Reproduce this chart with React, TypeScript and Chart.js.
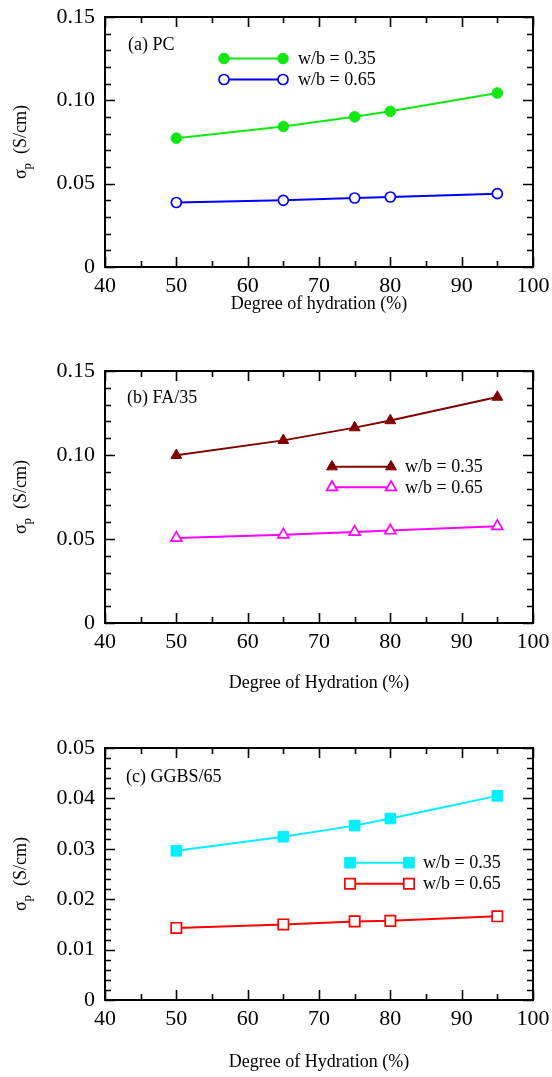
import React, { useEffect, useRef } from 'react';
import { Chart, registerables } from 'chart.js';
import { drawPoint } from 'chart.js/helpers';

Chart.register(...registerables);

// ---------------- data ----------------
const hydration = [50, 65, 75, 80, 95];
const seriesLabels = ['w/b = 0.35', 'w/b = 0.65'];

const pcWb35 = [0.0773, 0.0843, 0.0901, 0.0934, 0.1044];
const pcWb65 = [0.0387, 0.04, 0.0414, 0.042, 0.044];

const faWb35 = [0.0998, 0.1087, 0.1163, 0.1205, 0.1345];
const faWb65 = [0.0506, 0.0526, 0.0542, 0.055, 0.0576];

const ggbsWb35 = [0.0296, 0.0324, 0.0346, 0.036, 0.0405];
const ggbsWb65 = [0.0143, 0.015, 0.0156, 0.0157, 0.0166];

const xRange = [40, 100];
const xStep = 10;
const yRangeAB = [0, 0.15];
const yStepAB = 0.05;
const yRangeC = [0, 0.05];
const yStepC = 0.01;

const panelTitles = ['(a) PC', '(b) FA/35', '(c) GGBS/65'];
const xTitles = ['Degree of hydration (%)', 'Degree of Hydration (%)', 'Degree of Hydration (%)'];

const SERIF = '"Liberation Serif", "Times New Roman", serif';

// ---------------- plugin ----------------
const decoPlugin = {
  id: 'panelDeco',
  afterDraw(chart: any, _args: any, opts: any) {
    const { ctx, chartArea: a } = chart;
    const xs = chart.scales.x;
    const ys = chart.scales.y;
    ctx.save();

    // inward ticks on all four sides
    ctx.strokeStyle = '#000';
    ctx.lineWidth = 1.6;
    ctx.beginPath();
    const MAJ = 10;
    const MIN = 6;
    const nx = Math.round((xs.max - xs.min) / opts.minorX);
    for (let i = 0; i <= nx; i++) {
      const v = xs.min + i * opts.minorX;
      const px = Math.round(xs.getPixelForValue(v)) + 0.5;
      const len = i % opts.perMajorX === 0 ? MAJ : MIN;
      ctx.moveTo(px, a.bottom);
      ctx.lineTo(px, a.bottom - len);
      ctx.moveTo(px, a.top);
      ctx.lineTo(px, a.top + len);
    }
    const ny = Math.round((ys.max - ys.min) / opts.minorY);
    for (let i = 0; i <= ny; i++) {
      const v = ys.min + i * opts.minorY;
      const py = Math.round(ys.getPixelForValue(v)) + 0.5;
      const len = i % opts.perMajorY === 0 ? MAJ : MIN;
      ctx.moveTo(a.left, py);
      ctx.lineTo(a.left + len, py);
      ctx.moveTo(a.right, py);
      ctx.lineTo(a.right - len, py);
    }
    ctx.stroke();

    // frame
    ctx.lineWidth = 2;
    ctx.strokeRect(a.left, a.top, a.right - a.left, a.bottom - a.top);

    // panel label
    ctx.fillStyle = '#000';
    ctx.font = '18px ' + SERIF;
    ctx.textAlign = 'left';
    ctx.textBaseline = 'middle';
    ctx.fillText(opts.panelLabel, opts.panelX, opts.panelY);

    // legend
    chart.data.datasets.forEach((ds: any, i: number) => {
      const y = opts.legendY[i];
      ctx.strokeStyle = ds.borderColor;
      ctx.lineWidth = ds.borderWidth;
      ctx.beginPath();
      ctx.moveTo(opts.legendX1, y);
      ctx.lineTo(opts.legendX2, y);
      ctx.stroke();
      ctx.fillStyle = ds.pointBackgroundColor;
      ctx.strokeStyle = ds.pointBorderColor;
      ctx.lineWidth = ds.pointBorderWidth;
      const po = { pointStyle: ds.pointStyle, radius: ds.pointRadius, borderWidth: ds.pointBorderWidth, rotation: 0 };
      drawPoint(ctx, po, opts.legendX1, y);
      drawPoint(ctx, po, opts.legendX2, y);
      ctx.fillStyle = '#000';
      ctx.font = '18px ' + SERIF;
      ctx.textAlign = 'left';
      ctx.textBaseline = 'middle';
      ctx.fillText(ds.label, opts.legendTextX, y + 1);
    });

    // y title: sigma_p (S/cm)
    const cy = (a.top + a.bottom) / 2;
    ctx.translate(26, cy);
    ctx.rotate(-Math.PI / 2);
    ctx.textBaseline = 'alphabetic';
    ctx.textAlign = 'left';
    ctx.font = '18px ' + SERIF;
    const wS = ctx.measureText('σ').width;
    const wU = ctx.measureText('(S/cm)').width;
    ctx.font = '13px ' + SERIF;
    const wP = ctx.measureText('p').width;
    const gap = 9;
    const total = wS + wP + gap + wU;
    let x0 = -total / 2;
    ctx.font = '18px ' + SERIF;
    ctx.fillText('σ', x0, 0);
    x0 += wS;
    ctx.font = '13px ' + SERIF;
    ctx.fillText('p', x0, 5);
    x0 += wP + gap;
    ctx.font = '18px ' + SERIF;
    ctx.fillText('(S/cm)', x0, 0);

    ctx.restore();
  },
};

// ---------------- config factory ----------------
function makeDataset(label: string, values: number[], color: string, style: string, filled: boolean, radius: number) {
  return {
    label,
    data: hydration.map((h, i) => ({ x: h, y: values[i] })),
    borderColor: color,
    backgroundColor: color,
    borderWidth: 2,
    pointStyle: style,
    pointRadius: radius,
    pointHoverRadius: radius,
    pointBorderWidth: filled ? 1 : 1.7,
    pointBackgroundColor: filled ? color : '#ffffff',
    pointBorderColor: color,
    showLine: true,
    tension: 0,
    fill: false,
  };
}

function makeConfig(p: any) {
  return {
    type: 'scatter',
    data: { datasets: p.datasets },
    options: {
      responsive: false,
      maintainAspectRatio: false,
      animation: false,
      events: [],
      layout: { padding: { top: p.padTop, right: 19, bottom: 0, left: 0 } },
      plugins: {
        legend: { display: false },
        tooltip: { enabled: false },
        panelDeco: p.deco,
      },
      scales: {
        x: {
          type: 'linear',
          min: xRange[0],
          max: xRange[1],
          afterFit: (s: any) => {
            s.height = p.xH;
            s.paddingLeft = 0;
            s.paddingRight = 0;
          },
          grid: { display: false, drawTicks: false },
          border: { display: false },
          ticks: {
            stepSize: xStep,
            autoSkip: false,
            maxRotation: 0,
            padding: 6,
            color: '#000',
            font: { family: SERIF, size: 22 },
          },
          title: {
            display: true,
            text: p.xTitle,
            color: '#000',
            font: { family: SERIF, size: 18 },
            padding: 0,
          },
        },
        y: {
          type: 'linear',
          min: p.yRange[0],
          max: p.yRange[1],
          afterFit: (s: any) => {
            s.width = 105;
            s.paddingTop = 0;
            s.paddingBottom = 0;
          },
          grid: { display: false, drawTicks: false },
          border: { display: false },
          ticks: {
            stepSize: p.yStep,
            autoSkip: false,
            padding: 10,
            color: '#000',
            font: { family: SERIF, size: 22 },
            callback: (v: any) => (Math.abs(v) < 1e-12 ? '0' : Number(v).toFixed(2)),
          },
        },
      },
    },
    plugins: [decoPlugin],
  };
}

const panels = [
  {
    top: 0,
    height: 315,
    cfg: () =>
      makeConfig({
        padTop: 17,
        xH: 48,
        xTitle: xTitles[0],
        yRange: yRangeAB,
        yStep: yStepAB,
        datasets: [
          makeDataset(seriesLabels[0], pcWb35, '#11e811', 'circle', true, 5.3),
          makeDataset(seriesLabels[1], pcWb65, '#0000ff', 'circle', false, 5),
        ],
        deco: {
          minorX: 5, perMajorX: 2, minorY: 0.01, perMajorY: 5,
          panelLabel: panelTitles[0], panelX: 128, panelY: 45,
          legendX1: 224, legendX2: 283, legendY: [58.5, 79.5], legendTextX: 298,
        },
      }),
  },
  {
    top: 315,
    height: 379,
    cfg: () =>
      makeConfig({
        padTop: 56,
        xH: 71,
        xTitle: xTitles[1],
        yRange: yRangeAB,
        yStep: yStepAB,
        datasets: [
          makeDataset(seriesLabels[0], faWb35, '#800000', 'triangle', true, 6.3),
          makeDataset(seriesLabels[1], faWb65, '#ff00ff', 'triangle', false, 6.3),
        ],
        deco: {
          minorX: 5, perMajorX: 2, minorY: 0.01, perMajorY: 5,
          panelLabel: panelTitles[1], panelX: 127, panelY: 83,
          legendX1: 332, legendX2: 391, legendY: [151.7, 172.3], legendTextX: 405,
        },
      }),
  },
  {
    top: 694,
    height: 379,
    cfg: () =>
      makeConfig({
        padTop: 54,
        xH: 73,
        xTitle: xTitles[2],
        yRange: yRangeC,
        yStep: yStepC,
        datasets: [
          makeDataset(seriesLabels[0], ggbsWb35, '#00f0ff', 'rect', true, 7.5),
          makeDataset(seriesLabels[1], ggbsWb65, '#ff0000', 'rect', false, 7.3),
        ],
        deco: {
          minorX: 5, perMajorX: 2, minorY: 0.002, perMajorY: 5,
          panelLabel: panelTitles[2], panelX: 126, panelY: 83,
          legendX1: 350, legendX2: 409, legendY: [168.7, 189.7], legendTextX: 423,
        },
      }),
  },
];

function Panel({ top, height, cfg }: { top: number; height: number; cfg: () => any }) {
  const ref = useRef<HTMLCanvasElement | null>(null);
  useEffect(() => {
    if (!ref.current) return;
    const chart = new Chart(ref.current, cfg());
    return () => chart.destroy();
  }, []);
  return (
    <canvas
      ref={ref}
      width={552}
      height={height}
      style={{ position: 'absolute', left: 0, top, width: 552, height, display: 'block' }}
    />
  );
}

export default function App() {
  return (
    <div style={{ position: 'absolute', left: 0, top: 0, width: 552, height: 1077, background: '#fff' }}>
      {panels.map((p, i) => (
        <Panel key={i} top={p.top} height={p.height} cfg={p.cfg} />
      ))}
    </div>
  );
}
